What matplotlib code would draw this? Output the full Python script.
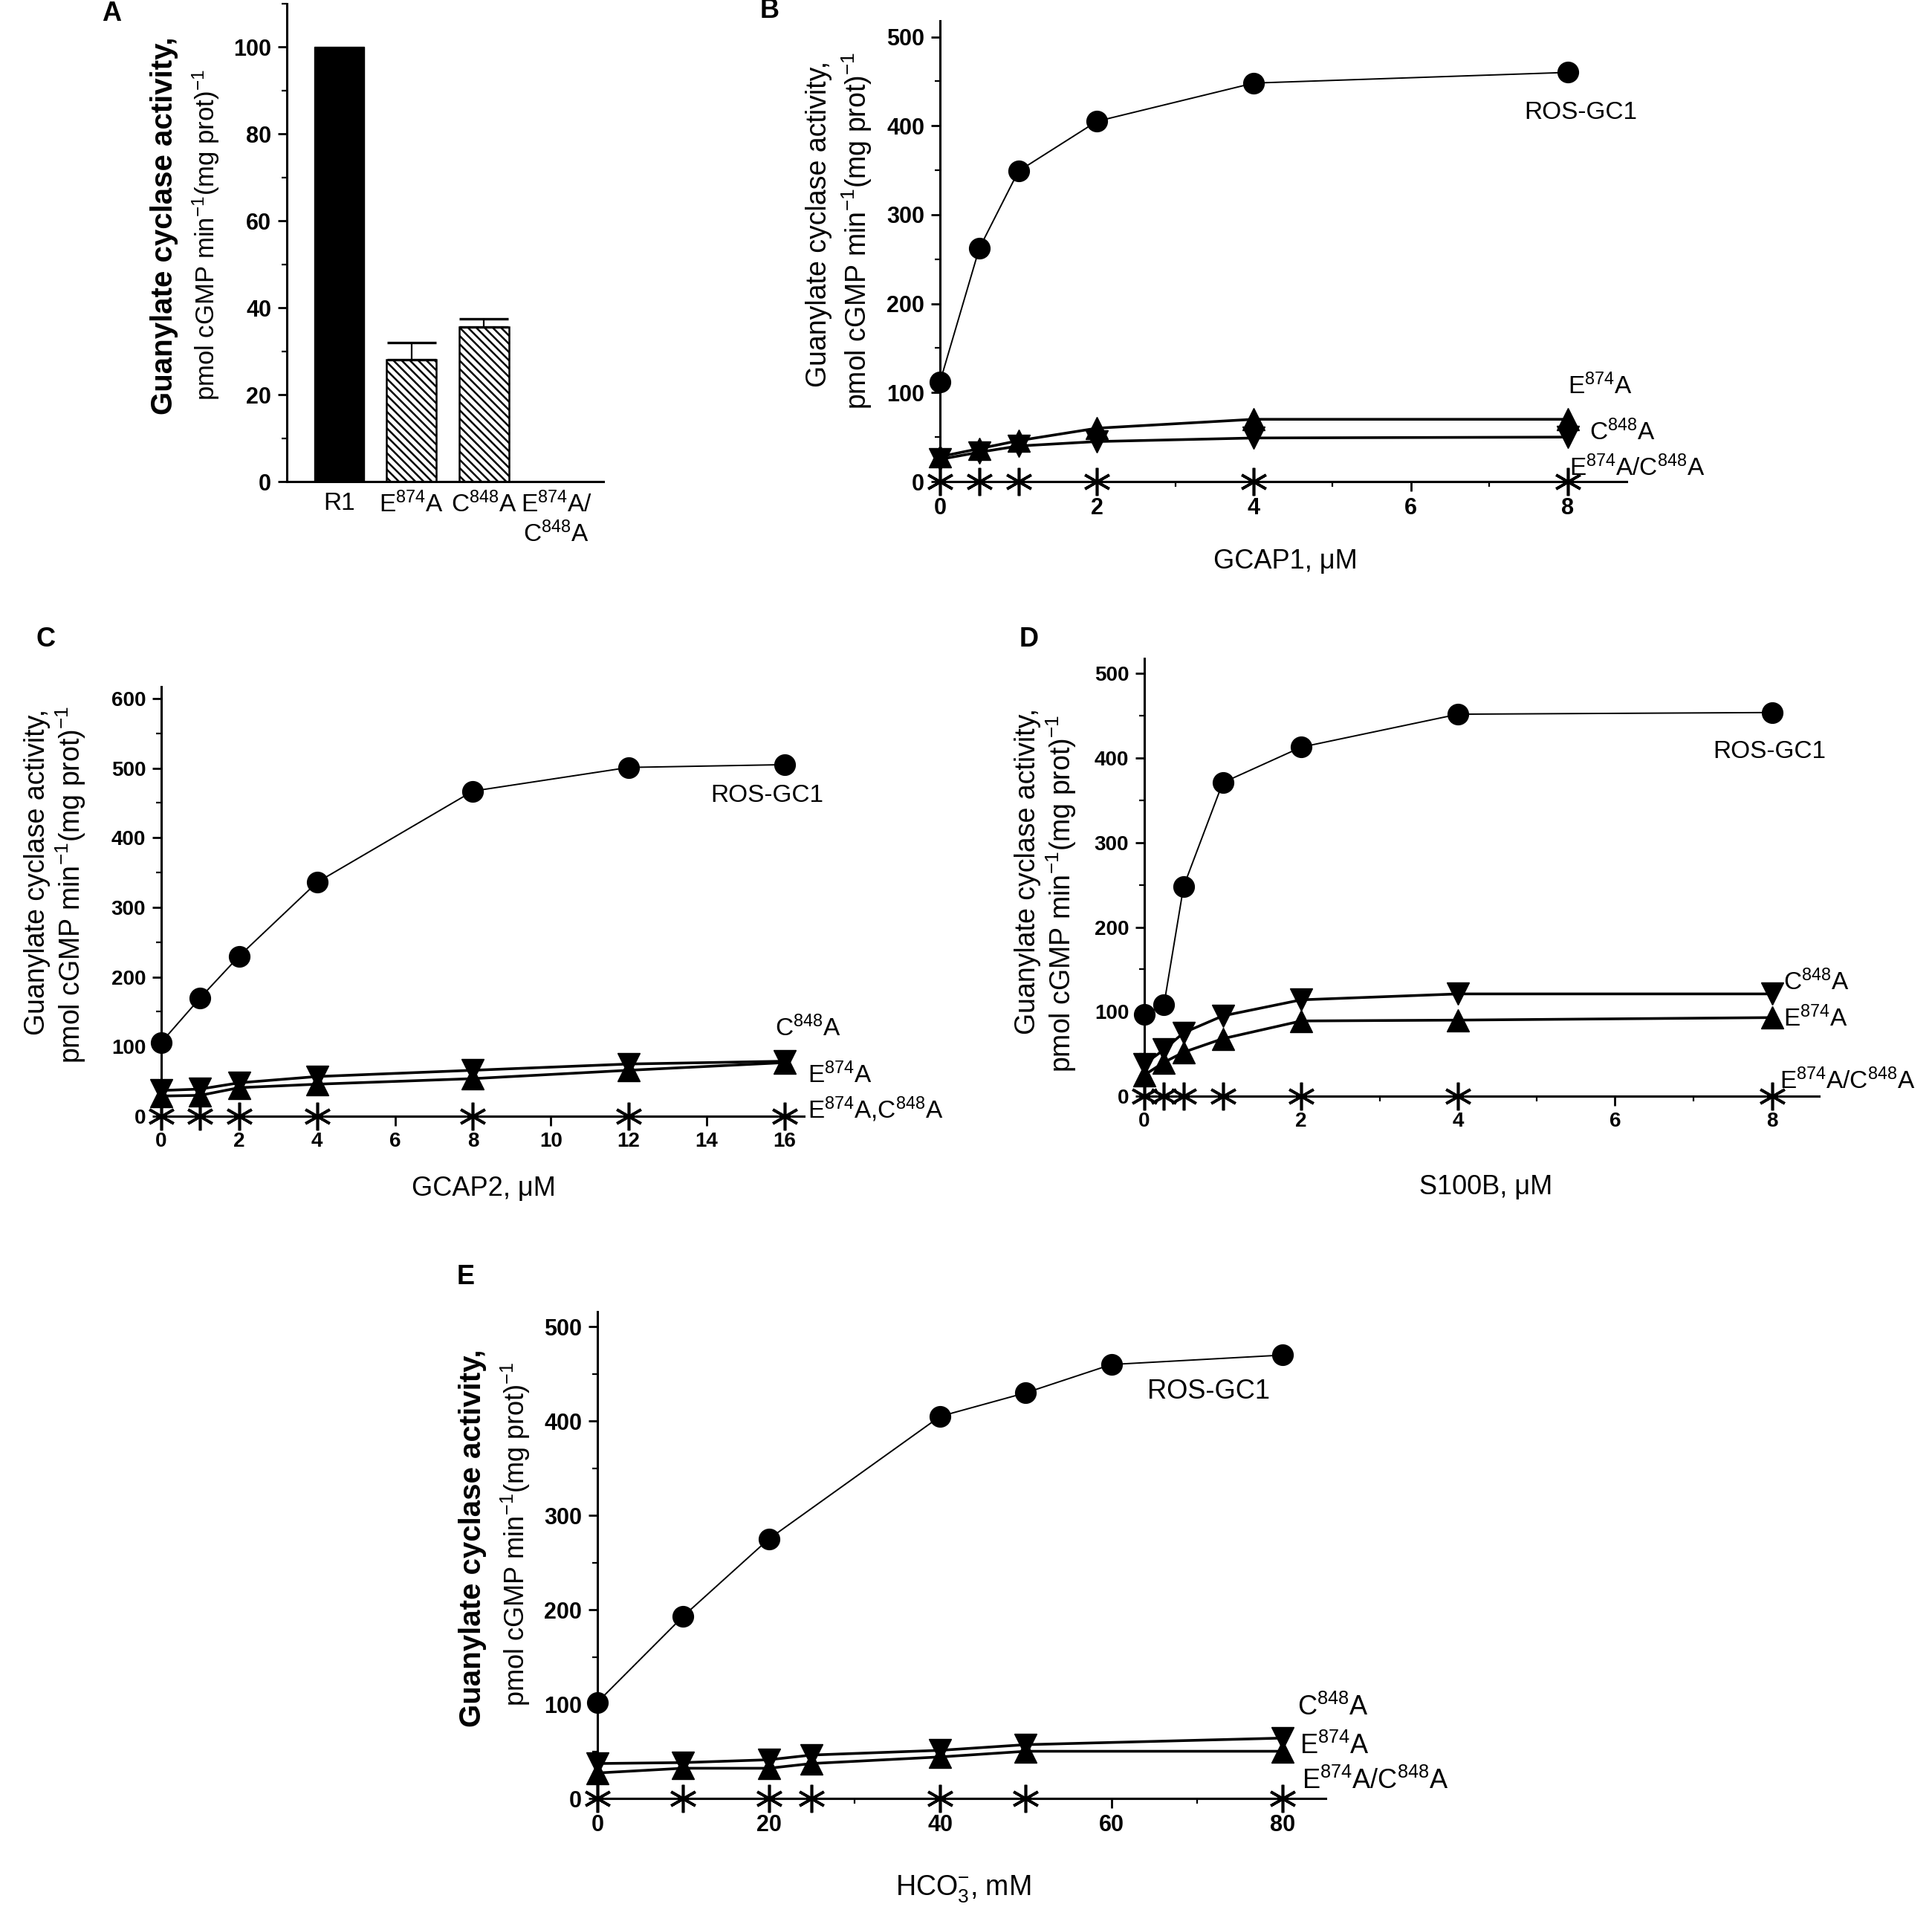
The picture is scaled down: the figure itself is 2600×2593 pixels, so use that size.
import matplotlib
matplotlib.use("Agg")
import matplotlib.pyplot as plt
from matplotlib.ticker import MultipleLocator

plt.rcParams['font.family'] = ['Liberation Sans', 'DejaVu Sans']
plt.rcParams['mathtext.fontset'] = 'custom'
plt.rcParams['mathtext.rm'] = 'Liberation Sans'
plt.rcParams['mathtext.it'] = 'Liberation Sans:italic'
plt.rcParams['mathtext.bf'] = 'Liberation Sans:bold'
plt.rcParams['mathtext.default'] = 'regular'
plt.rcParams['hatch.linewidth'] = 1.8

# ---------------- data ----------------
# Panel A
a_categories = ['R1', 'E$^{874}$A', 'C$^{848}$A', 'E$^{874}$A/\nC$^{848}$A']
a_values = [100, 28, 35.5, 0]
a_errors = [0, 4, 2, 0]

# Panel B (GCAP1)
b_x = [0, 0.5, 1, 2, 4, 8]
b_ros = [112, 262, 349, 405, 448, 460]
b_e874 = [28, 37, 46, 60, 70, 70]
b_c848 = [25, 33, 40, 45, 49, 50]
b_double = [0, 0, 0, 0, 0, 0]

# Panel C (GCAP2)
c_x = [0, 1, 2, 4, 8, 12, 16]
c_ros = [106, 170, 230, 336, 467, 501, 505]
c_c848 = [37, 39, 48, 57, 66, 75, 79]
c_e874 = [29, 30, 41, 46, 54, 66, 77]
c_double = [0, 0, 0, 0, 0, 0, 0]

# Panel D (S100B)
d_x = [0, 0.25, 0.5, 1, 2, 4, 8]
d_ros = [97, 108, 248, 371, 413, 452, 454]
d_c848 = [38, 55, 75, 95, 114, 121, 121]
d_e874 = [25, 40, 52, 68, 89, 90, 93]
d_double = [0, 0, 0, 0, 0, 0, 0]

# Panel E (bicarbonate)
e_x_ros = [0, 10, 20, 40, 50, 60, 80]
e_ros = [102, 193, 275, 405, 430, 460, 470]
e_x_mut = [0, 10, 20, 25, 40, 50, 80]
e_c848 = [37, 38, 41, 46, 51, 57, 64]
e_e874 = [27, 32, 32, 37, 44, 50, 50]
e_double = [0, 0, 0, 0, 0, 0, 0]

W, H = 2600, 2593
fig = plt.figure(figsize=(W / 100, H / 100), dpi=100)


def px_axes(l, r, t, b):
    return fig.add_axes([l / W, 1 - b / H, (r - l) / W, (b - t) / H])


def style(ax, tick_fs, xmaj=None, xmin=None, ymaj=100, ymin=50):
    for s in ['top', 'right']:
        ax.spines[s].set_visible(False)
    for s in ['left', 'bottom']:
        ax.spines[s].set_linewidth(2.2)
    ax.tick_params(axis='both', which='major', direction='out', length=9, width=2,
                   labelsize=tick_fs, pad=6)
    ax.tick_params(axis='both', which='minor', direction='out', length=5, width=1.6)
    ax.yaxis.set_major_locator(MultipleLocator(ymaj))
    if ymin:
        ax.yaxis.set_minor_locator(MultipleLocator(ymin))
    if xmaj:
        ax.xaxis.set_major_locator(MultipleLocator(xmaj))
    if xmin:
        ax.xaxis.set_minor_locator(MultipleLocator(xmin))
    for lab in ax.get_xticklabels() + ax.get_yticklabels():
        lab.set_fontweight('bold')


def ylab(x, y, text, fs, weight='normal'):
    fig.text(x / W, 1 - y / H, text, rotation=90, ha='center', va='center',
             fontsize=fs, fontweight=weight)


ROS_KW = dict(color='black', lw=1.4, marker='o', ms=20, clip_on=False, zorder=5)
UP_KW = dict(color='black', lw=2.6, marker='^', ms=21, clip_on=False, zorder=4)
DN_KW = dict(color='black', lw=2.6, marker='v', ms=21, clip_on=False, zorder=4)
ST_KW = dict(color='black', lw=2.2, marker=(6, 2, 0), ms=27, mew=2.6, clip_on=False, zorder=3)
LAB_FS = 24

# ---------------- Panel A ----------------
axA = px_axes(386, 812, 5, 648)
xs = list(range(len(a_categories)))
axA.bar(xs[0], a_values[0], width=0.69, color='black', edgecolor='black')
for i in (1, 2):
    axA.bar(xs[i], a_values[i], width=0.69, color='white', edgecolor='black',
            hatch='\\\\\\', linewidth=1.8)
    axA.errorbar(xs[i], a_values[i], yerr=[[0], [a_errors[i]]], color='black',
                 capsize=24, capthick=2.4, elinewidth=1.6, fmt='none')
axA.bar(xs[3], a_values[3], width=0.69, color='white', edgecolor='black')
axA.set_xlim(-0.72, 3.65)
axA.set_ylim(0, 110)
axA.set_xticks(xs)
axA.set_xticklabels(a_categories)
style(axA, 22, ymaj=20, ymin=10)
axA.tick_params(axis='x', which='both', length=0, pad=10, labelsize=24)
for lab in axA.get_xticklabels():
    lab.set_fontweight('normal')
ylab(221, 304, 'Guanylate cyclase activity,', 29, 'bold')
ylab(277, 316, 'pmol cGMP min$^{-1}$(mg prot)$^{-1}$', 25)
fig.text(150 / W, 1 - 18 / H, 'A', fontsize=26, fontweight='bold', ha='center', va='center')

# ---------------- Panel B ----------------
axB = px_axes(1265, 2189, 28, 648)
axB.plot(b_x, b_double, **ST_KW)
axB.plot(b_x, b_c848, **DN_KW)
axB.plot(b_x, b_e874, **UP_KW)
axB.plot(b_x, b_ros, **ROS_KW)
axB.set_xlim(0, 8.75)
axB.set_ylim(0, 518)
style(axB, 22, xmaj=2, xmin=1)
axB.text(7.45, 415, 'ROS-GC1', fontsize=LAB_FS, va='center', ha='left')
axB.text(8.0, 107, 'E$^{874}$A', fontsize=LAB_FS, va='center', ha='left')
axB.text(8.28, 55, 'C$^{848}$A', fontsize=LAB_FS, va='center', ha='left')
axB.text(8.02, 15, 'E$^{874}$A/C$^{848}$A', fontsize=LAB_FS, va='center', ha='left')
ylab(1102, 301, 'Guanylate cyclase activity,', 27)
ylab(1153, 310, 'pmol cGMP min$^{-1}$(mg prot)$^{-1}$', 27)
fig.text(1730 / W, 1 - 755 / H, 'GCAP1, μM', fontsize=26, ha='center', va='center')
fig.text(1036 / W, 1 - 15 / H, 'B', fontsize=26, fontweight='bold', ha='center', va='center')

# ---------------- Panel C ----------------
axC = px_axes(217, 1082, 924, 1502)
axC.plot(c_x, c_double, **ST_KW)
axC.plot(c_x, c_c848, **DN_KW)
axC.plot(c_x, c_e874, **UP_KW)
axC.plot(c_x, c_ros, **ROS_KW)
axC.set_xlim(0, 16.5)
axC.set_ylim(0, 617)
style(axC, 20, xmaj=2)
axC.text(14.1, 461, 'ROS-GC1', fontsize=LAB_FS, va='center', ha='left')
axC.text(15.75, 126, 'C$^{848}$A', fontsize=LAB_FS, va='center', ha='left')
axC.text(16.6, 59, 'E$^{874}$A', fontsize=LAB_FS, va='center', ha='left')
axC.text(16.6, 10, 'E$^{874}$A,C$^{848}$A', fontsize=LAB_FS, va='center', ha='left')
ylab(50, 1173, 'Guanylate cyclase activity,', 27)
ylab(95, 1190, 'pmol cGMP min$^{-1}$(mg prot)$^{-1}$', 27)
fig.text(651 / W, 1 - 1600 / H, 'GCAP2, μM', fontsize=26, ha='center', va='center')
fig.text(62 / W, 1 - 861 / H, 'C', fontsize=26, fontweight='bold', ha='center', va='center')

# ---------------- Panel D ----------------
axD = px_axes(1540, 2448, 886, 1475)
axD.plot(d_x, d_double, **ST_KW)
axD.plot(d_x, d_c848, **DN_KW)
axD.plot(d_x, d_e874, **UP_KW)
axD.plot(d_x, d_ros, **ROS_KW)
axD.set_xlim(0, 8.6)
axD.set_ylim(0, 518)
style(axD, 20, xmaj=2, xmin=1)
axD.text(7.25, 408, 'ROS-GC1', fontsize=LAB_FS, va='center', ha='left')
axD.text(8.15, 135, 'C$^{848}$A', fontsize=LAB_FS, va='center', ha='left')
axD.text(8.15, 92, 'E$^{874}$A', fontsize=LAB_FS, va='center', ha='left')
axD.text(8.1, 18, 'E$^{874}$A/C$^{848}$A', fontsize=LAB_FS, va='center', ha='left')
ylab(1383, 1172, 'Guanylate cyclase activity,', 27)
ylab(1428, 1202, 'pmol cGMP min$^{-1}$(mg prot)$^{-1}$', 27)
fig.text(2000 / W, 1 - 1597 / H, 'S100B, μM', fontsize=26, ha='center', va='center')
fig.text(1385 / W, 1 - 861 / H, 'D', fontsize=26, fontweight='bold', ha='center', va='center')

# ---------------- Panel E ----------------
axE = px_axes(804, 1784, 1765, 2420)
axE.plot(e_x_mut, e_double, **ST_KW)
axE.plot(e_x_mut, e_c848, **DN_KW)
axE.plot(e_x_mut, e_e874, **UP_KW)
axE.plot(e_x_ros, e_ros, **ROS_KW)
axE.set_xlim(0, 85)
axE.set_ylim(0, 516)
style(axE, 22, xmaj=20, xmin=10)
axE.text(64.2, 431, 'ROS-GC1', fontsize=LAB_FS + 2, va='center', ha='left')
axE.text(81.7, 96, 'C$^{848}$A', fontsize=LAB_FS + 2, va='center', ha='left')
axE.text(82.0, 55, 'E$^{874}$A', fontsize=LAB_FS + 2, va='center', ha='left')
axE.text(82.2, 18, 'E$^{874}$A/C$^{848}$A', fontsize=LAB_FS + 2, va='center', ha='left')
ylab(636, 2070, 'Guanylate cyclase activity,', 29, 'bold')
ylab(694, 2064, 'pmol cGMP min$^{-1}$(mg prot)$^{-1}$', 26)
fig.text(1296 / W, 1 - 2542 / H, 'HCO$_3^{-}$, mM', fontsize=27, ha='center', va='center')
fig.text(627 / W, 1 - 1718 / H, 'E', fontsize=26, fontweight='bold', ha='center', va='center')

fig.savefig('out.png', dpi=100, facecolor='white')
